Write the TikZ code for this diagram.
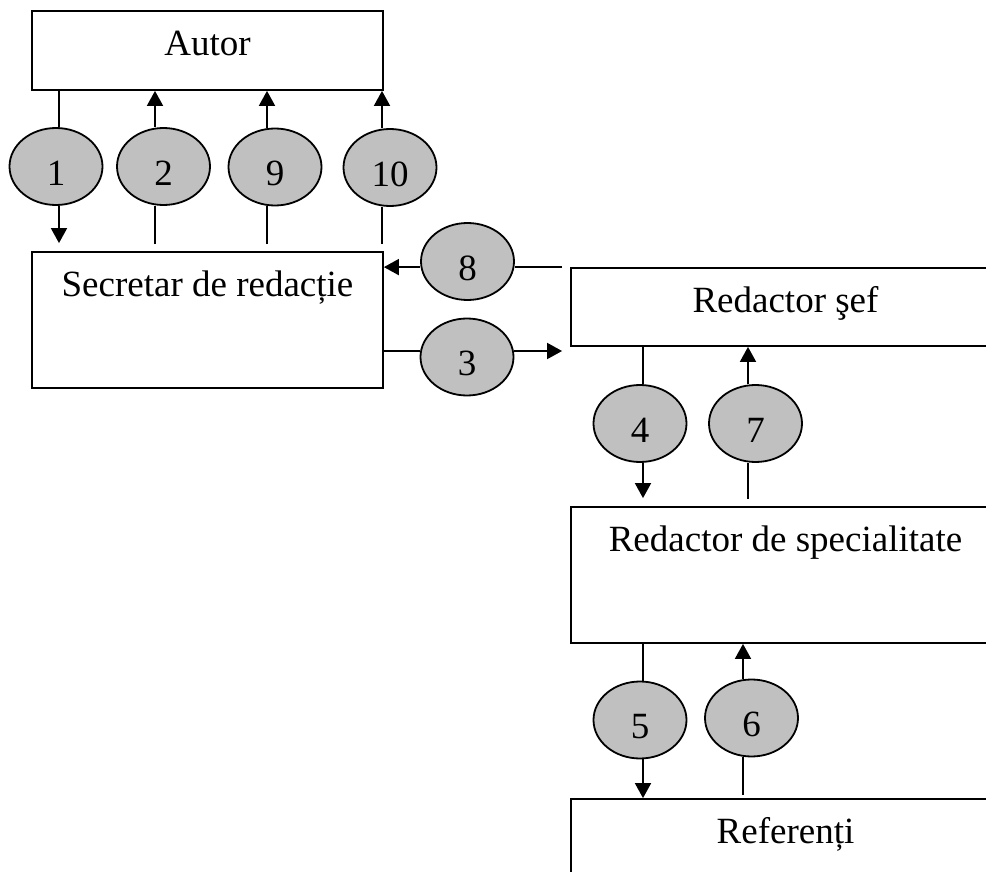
\documentclass[tikz,border=0pt]{standalone}
\usepackage{fontspec}
\setmainfont{Liberation Serif}
\usepackage{tikz}
\usetikzlibrary{shapes,arrows.meta}
\definecolor{ovalgray}{RGB}{192,192,192}

\begin{document}
\begin{tikzpicture}
[x=1pt, y=-1pt, line width=1.8pt, font=\fontsize{37}{44}\selectfont]
\tikzset{
	box/.style = {rectangle, draw, inner sep = 0, label = {[anchor=base, yshift=-45pt]north:#1}},
	oval/.style = {ellipse, draw, fill = ovalgray, minimum width = 93pt, minimum height = 77pt, inner sep = 0, label = {[yshift=-6.5pt]center:#1}},
	flow/.style = {-{Triangle[width=16pt,length=15pt]}},
	gap/.style = {shorten >= 8pt}
}

\useasboundingbox (0,0) rectangle (986,872);
\clip (0,0) rectangle (986,872);

\node (autor) [box=Autor, minimum width=351pt, minimum height=79pt] at (207.5,50.5) {};
\node (secretar) [box=Secretar de redacție, minimum width=351pt, minimum height=136pt] at (207.5,320) {};
\node (sef) [box=Redactor şef, minimum width=429pt, minimum height=78pt] at (785.5,307) {};
\node (spec) [box=Redactor de specialitate, minimum width=429pt, minimum height=136pt] at (785.5,575) {};
\node (ref) [box=Referenți, minimum width=429pt, minimum height=136pt] at (785.5,867) {};

\node (e1) [oval=1] at (56,166.5) {};
\node (e2) [oval=2] at (163.5,166.5) {};
\node (e9) [oval=9] at (275,167) {};
\node (e10) [oval=10] at (390,167.5) {};
\node (e8) [oval=8] at (467.5,261.5) {};
\node (e3) [oval=3] at (467,357) {};
\node (e4) [oval=4] at (640,423.5) {};
\node (e7) [oval=7] at (755.5,423.5) {};
\node (e5) [oval=5] at (640,720) {};
\node (e6) [oval=6] at (751.5,718) {};

% where the lines run
\coordinate (c1) at (59,0);
\coordinate (c2) at (155,0);
\coordinate (c9) at (267,0);
\coordinate (c10) at (382,0);
\coordinate (c4) at (643,0);
\coordinate (c7) at (748,0);
\coordinate (c5) at (643,0);
\coordinate (c6) at (743,0);
\coordinate (r3) at (0,351);

% autor <-> secretar
\draw (c1 |- autor.south) -- (c1 |- e1.north);
\draw[flow, gap] (c1 |- e1.south) -- (c1 |- secretar.north);
\draw[shorten <= 7pt] (c2 |- secretar.north) -- (c2 |- e2.south);
\draw[flow] (c2 |- e2.north) -- (c2 |- autor.south);
\draw[shorten <= 7pt] (c9 |- secretar.north) -- (c9 |- e9.south);
\draw[flow] (c9 |- e9.north) -- (c9 |- autor.south);
\draw[shorten <= 7pt] (c10 |- secretar.north) -- (c10 |- e10.south);
\draw[flow] (c10 |- e10.north) -- (c10 |- autor.south);

% secretar <-> sef
\draw[shorten <= 8pt] (sef.north west) -- (e8.east |- sef.north);
\draw[flow] (e8.west |- sef.north) -- (secretar.east |- sef.north);
\draw (r3 -| secretar.east) -- (r3 -| e3.west);
\draw[flow, gap] (r3 -| e3.east) -- (r3 -| sef.west);

% sef <-> spec
\draw (c4 |- sef.south) -- (c4 |- e4.north);
\draw[flow, gap] (c4 |- e4.south) -- (c4 |- spec.north);
\draw[shorten <= 7pt] (c7 |- spec.north) -- (c7 |- e7.south);
\draw[flow] (c7 |- e7.north) -- (c7 |- sef.south);

% spec <-> ref
\draw (c5 |- spec.south) -- (c5 |- e5.north);
\draw[flow] (c5 |- e5.south) -- (c5 |- ref.north);
\draw[shorten <= 3pt] (c6 |- ref.north) -- (c6 |- e6.south);
\draw[flow] (c6 |- e6.north) -- (c6 |- spec.south);

\end{tikzpicture}
\end{document}
